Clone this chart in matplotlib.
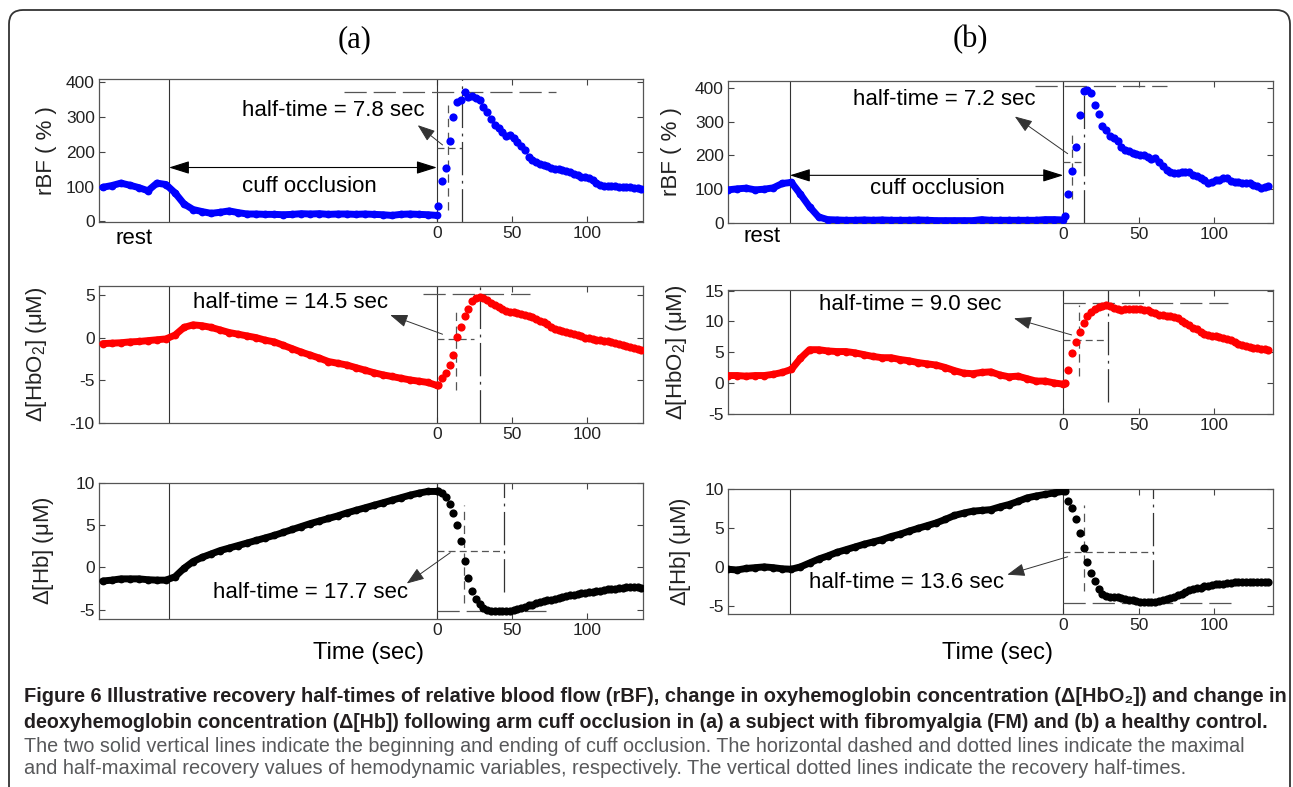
import numpy as np
import matplotlib
matplotlib.use('Agg')
import matplotlib.pyplot as plt
from matplotlib.patches import FancyBboxPatch

plt.rcParams['font.family'] = ['Liberation Sans', 'DejaVu Sans']
plt.rcParams['mathtext.default'] = 'regular'
plt.rcParams['lines.scale_dashes'] = False
plt.rcParams['axes.unicode_minus'] = False

# sample times in sec (0 = cuff release)
t_pre = np.arange(-222, 1, 6)      # rest + occlusion
t_rec = np.arange(1, 137, 2.5)     # recovery

# ---- (a) subject with fibromyalgia ----
rbf_a_pre = [98, 103, 110, 104, 97, 88, 110, 106, 82, 50,
             34, 28, 23, 26, 30, 25, 21, 21, 20, 20,
             19, 20, 22, 21, 22, 20, 21, 21, 20, 21,
             20, 19, 17, 20, 21, 20, 19, 17]
rbf_a_rec = [45, 115, 155, 230, 300, 345, 350, 372, 358, 360,
             356, 350, 330, 315, 295, 278, 268, 258, 246, 248,
             240, 228, 216, 205, 185, 176, 172, 166, 162, 158,
             155, 150, 152, 148, 144, 141, 137, 133, 129, 127,
             124, 118, 111, 106, 102, 101, 103, 101, 100, 99,
             98, 98, 97, 95, 94]
hbo_a_pre = [-0.7, -0.65, -0.6, -0.5, -0.45, -0.35, -0.25, -0.15, 0.3, 1.2,
             1.5, 1.4, 1.2, 0.9, 0.6, 0.4, 0.2, 0.0, -0.3, -0.5,
             -0.9, -1.3, -1.7, -2.05, -2.4, -2.8, -3.0, -3.2, -3.5, -3.8,
             -4.1, -4.35, -4.55, -4.75, -4.95, -5.1, -5.25, -5.6]
hbo_a_rec = [-5.5, -4.7, -4.1, -3.2, -2.0, 0.1, 1.3, 2.5, 3.4, 4.25,
             4.65, 4.8, 4.7, 4.4, 4.1, 3.85, 3.55, 3.3, 3.15, 3.05,
             2.95, 2.9, 2.8, 2.65, 2.55, 2.4, 2.2, 2.0, 1.8, 1.55,
             1.25, 1.05, 0.9, 0.75, 0.65, 0.5, 0.4, 0.3, 0.15, 0.0,
             -0.1, -0.15, -0.25, -0.3, -0.35, -0.45, -0.5, -0.6, -0.75, -0.85,
             -1.0, -1.1, -1.25, -1.35, -1.45]
hb_a_pre = [-1.6, -1.5, -1.35, -1.35, -1.35, -1.45, -1.5, -1.5, -1.1, -0.1,
            0.7, 1.2, 1.6, 2.0, 2.3, 2.6, 2.9, 3.2, 3.5, 3.8,
            4.15, 4.5, 4.85, 5.2, 5.5, 5.8, 6.1, 6.45, 6.75, 7.05,
            7.35, 7.65, 7.95, 8.25, 8.55, 8.8, 9.0, 9.0]
hb_a_rec = [9.0, 8.85, 8.3, 7.55, 6.4, 5.0, 3.1, 0.8, -1.2, -2.8,
            -3.7, -4.35, -4.8, -5.0, -5.1, -5.1, -5.15, -5.15, -5.15, -5.1,
            -5.05, -4.9, -4.75, -4.65, -4.5, -4.4, -4.25, -4.1, -4.0, -3.9,
            -3.8, -3.75, -3.65, -3.5, -3.4, -3.3, -3.2, -3.15, -3.05, -3.0,
            -2.95, -2.9, -2.8, -2.75, -2.7, -2.6, -2.55, -2.5, -2.45, -2.4,
            -2.35, -2.3, -2.3, -2.35, -2.4]

# ---- (b) healthy control ----
rbf_b_pre = [98, 101, 103, 98, 100, 104, 117, 120, 85, 48,
             18, 10, 9, 8, 8, 9, 8, 9, 8, 8,
             8, 9, 8, 7, 7, 7, 7, 7, 10, 8,
             8, 8, 8, 8, 8, 10, 10, 9]
rbf_b_rec = [20, 85, 155, 225, 320, 390, 392, 385, 350, 322,
             288, 276, 256, 250, 244, 225, 215, 212, 206, 203,
             202, 202, 194, 190, 192, 180, 170, 158, 150, 149,
             148, 150, 152, 152, 141, 138, 132, 126, 118, 122,
             126, 127, 133, 134, 125, 122, 120, 119, 117, 117,
             112, 110, 104, 106, 108]
hbo_b_pre = [1.2, 1.2, 1.1, 1.2, 1.2, 1.4, 1.7, 2.2, 4.0, 5.4,
             5.4, 5.2, 5.1, 5.1, 4.9, 4.6, 4.3, 4.1, 4.1, 3.8,
             3.6, 3.3, 3.1, 2.9, 2.5, 2.0, 1.6, 1.5, 1.7, 1.8,
             1.3, 1.0, 1.1, 0.7, 0.3, 0.3, 0.0, -0.2]
hbo_b_rec = [0.0, 2.1, 4.8, 6.7, 8.3, 9.8, 10.9, 11.6, 12.05, 12.3,
             12.5, 12.7, 12.5, 12.2, 12.0, 11.9, 11.95, 12.0, 12.05, 12.05,
             12.0, 11.9, 11.8, 11.6, 11.4, 11.1, 11.0, 10.9, 10.85, 10.75,
             10.5, 10.1, 9.8, 9.4, 9.0, 8.7, 8.35, 8.0, 7.75, 7.65,
             7.55, 7.4, 7.25, 7.1, 6.9, 6.6, 6.35, 6.15, 6.0, 5.85,
             5.7, 5.6, 5.5, 5.45, 5.4]
hb_b_pre = [-0.3, -0.4, -0.2, -0.1, 0.0, -0.1, -0.25, -0.3, 0.0, 0.5,
            1.0, 1.4, 1.85, 2.2, 2.55, 2.9, 3.2, 3.5, 3.9, 4.2,
            4.6, 4.95, 5.3, 5.65, 6.1, 6.6, 6.9, 7.15, 7.25, 7.35,
            7.7, 8.0, 8.4, 8.85, 9.1, 9.3, 9.5, 9.7]
hb_b_rec = [9.7, 8.5, 7.6, 6.2, 4.3, 2.45, 0.6, -0.8, -1.85, -2.85,
            -3.45, -3.8, -3.85, -3.85, -3.9, -4.0, -4.1, -4.2, -4.3, -4.4,
            -4.45, -4.55, -4.55, -4.55, -4.5, -4.4, -4.3, -4.1, -4.0, -3.85,
            -3.65, -3.45, -3.2, -3.0, -2.85, -2.75, -2.65, -2.5, -2.4, -2.3,
            -2.25, -2.2, -2.15, -2.1, -2.05, -2.0, -1.95, -1.95, -1.95, -1.95,
            -1.95, -1.95, -1.95, -1.95, -1.95]

occ_start = [-178, -181]          # begin of cuff occlusion, (a) and (b)
half_labels = ['half-time = 7.8 sec', 'half-time = 14.5 sec', 'half-time = 17.7 sec',
               'half-time = 7.2 sec', 'half-time = 9.0 sec', 'half-time = 13.6 sec']
# guide lines: half-time position, half level, peak (trough) time, peak (trough) level
t_half = [7.6, 12.5, 17.8, 5.6, 10.2, 14.0]
v_half = [211, -0.15, 2.0, 180, 7.0, 1.9]
t_peak = [16.5, 29.0, 44.5, 13.7, 29.8, 59.7]
v_peak = [372, 5.1, -5.15, 404, 13.0, -4.7]

ylabels = ['rBF ( % )', r'$\Delta$[HbO$_2$] ($\mu$M)', r'$\Delta$[Hb] ($\mu$M)']

W, H = 1293, 787
fig = plt.figure(figsize=(W / 100, H / 100), dpi=100)

# box + layout in pixels of the reference
panels = [
    dict(pre=rbf_a_pre, rec=rbf_a_rec, col='#0000ff', box=(99, 79, 643, 222), xlim=(-224.5, 137),
         ylim=(-2, 410), yt=[0, 100, 200, 300, 400], lab=0, lx=-0.077, occ=0,
         txt=(-69, 320), tail=(3.8, 220), head=(-12.7, 277),
         max_span=(-62, 79), half_span=(0, 16.5), th_span=(32, 336), tp_span=None),
    dict(pre=hbo_a_pre, rec=hbo_a_rec, col='#ff0000', box=(99, 286, 643, 423), xlim=(-224.5, 137),
         ylim=(-10, 6.05), yt=[-10, -5, 0, 5], lab=1, lx=-0.092, occ=0,
         txt=(-97, 4.1), tail=(3.8, 0.4), head=(-31, 2.65),
         max_span=(-9, 62), half_span=(0, 25), th_span=(-6.1, 3.2), tp_span=None),
    dict(pre=hb_a_pre, rec=hb_a_rec, col='#000000', box=(99, 483, 643, 619), xlim=(-224.5, 137),
         ylim=(-6.1, 10), yt=[-5, 0, 5, 10], lab=2, lx=-0.079, occ=0,
         txt=(-84, -3.0), tail=(8.9, 1.75), head=(-20, -1.9),
         max_span=(0, 72.5), half_span=(0, 44.5), th_span=(-4.2, 7.4), tp_span=(-2.9, 10)),
    dict(pre=rbf_b_pre, rec=rbf_b_rec, col='#0000ff', box=(728, 81, 1273, 223), xlim=(-222, 139),
         ylim=(0, 420), yt=[0, 100, 200, 300, 400], lab=0, lx=-0.084, occ=1,
         txt=(-79, 366), tail=(3, 205), head=(-32, 315),
         max_span=(-18.6, 69), half_span=(0, 14.5), th_span=(72, 259), tp_span=None),
    dict(pre=hbo_b_pre, rec=hbo_b_rec, col='#ff0000', box=(728, 290, 1273, 414), xlim=(-222, 139),
         ylim=(-5.05, 15.1), yt=[-5, 0, 5, 10, 15], lab=1, lx=-0.072, occ=1,
         txt=(-101.5, 12.7), tail=(5.6, 7.8), head=(-32.6, 10.5),
         max_span=(0, 109), half_span=(0, 30), th_span=(1.2, 12.7), tp_span=(-3.1, 15.1)),
    dict(pre=hb_b_pre, rec=hb_b_rec, col='#000000', box=(728, 489, 1273, 614), xlim=(-222, 139),
         ylim=(-6.05, 10), yt=[-5, 0, 5, 10], lab=2, lx=-0.064, occ=1,
         txt=(-104, -2.05), tail=(3, 1.3), head=(-37, -1.0),
         max_span=(0, 111.5), half_span=(0, 59.7), th_span=(-3.1, 8.0), tp_span=(-3.35, 10)),
]

gc = '#555555'
axes = []
for i, p in enumerate(panels):
    x0, y0, x1, y1 = p['box']
    ax = fig.add_axes([x0 / W, 1 - y1 / H, (x1 - x0) / W, (y1 - y0) / H])
    axes.append(ax)

    # data: continuous band before release, separate dots afterwards
    ax.plot(t_pre, p['pre'], '-', color=p['col'], lw=5.0, solid_capstyle='round', zorder=3)
    ax.plot(t_pre, p['pre'], 'o', color=p['col'], ms=5.6, mew=0, zorder=3)
    ax.plot(t_rec, p['rec'], 'o', color=p['col'], ms=5.9, mew=0, zorder=3)

    # occlusion start / end
    ax.axvline(occ_start[p['occ']], color='#333333', lw=0.8, zorder=2)
    ax.axvline(0, color='#333333', lw=0.8, zorder=2)

    # recovery guides
    ax.plot(p['max_span'], [v_peak[i]] * 2, color=gc, lw=0.9, dashes=(16, 5), zorder=2)
    ax.plot(p['half_span'], [v_half[i]] * 2, color=gc, lw=0.9, dashes=(5, 3), zorder=2)
    ax.plot([t_half[i]] * 2, p['th_span'], color=gc, lw=0.9, dashes=(6, 4), zorder=2)
    tp = p['tp_span'] if p['tp_span'] else p['ylim']
    ax.plot([t_peak[i]] * 2, tp, color='#333333', lw=0.9, dashes=(24, 4, 2, 4), zorder=2)

    ax.text(p['txt'][0], p['txt'][1], half_labels[i], fontsize=16, ha='center', va='center')
    ax.annotate('', xy=p['head'], xytext=p['tail'],
                arrowprops=dict(arrowstyle='-|>,head_length=0.6,head_width=0.22',
                                color='#333333', lw=0.7, mutation_scale=18,
                                shrinkA=0, shrinkB=0))

    ax.set_xlim(p['xlim'])
    ax.set_ylim(p['ylim'])
    ax.set_xticks([0, 50, 100])
    ax.set_yticks(p['yt'])
    ax.tick_params(direction='in', top=True, right=True, length=4, width=0.8,
                   color='#444444', labelsize=12.5, labelcolor='#222222', pad=3)
    for s in ax.spines.values():
        s.set_color('#555555')
        s.set_linewidth(0.9)
    ax.set_ylabel(ylabels[p['lab']], fontsize=16, color='#222222')
    ax.yaxis.set_label_coords(p['lx'], 0.5)

# cuff occlusion arrows on the rBF panels
for ax, oc, yv, tx in [(axes[0], occ_start[0], 155, (-85, 101)),
                       (axes[3], occ_start[1], 141, (-83.5, 101))]:
    ax.annotate('', xy=(oc, yv), xytext=(0, yv),
                arrowprops=dict(arrowstyle='<|-|>,head_length=0.7,head_width=0.22',
                                color='black', lw=0.8, mutation_scale=18,
                                shrinkA=0, shrinkB=0))
    ax.text(tx[0], tx[1], 'cuff occlusion', fontsize=16, ha='center', va='center')

# panel titles and shared texts
fig.text(355 / W, 1 - 40 / H, '(a)', family='Liberation Serif', fontsize=22, ha='center', va='center')
fig.text(970 / W, 1 - 40 / H, '(b)', family='Liberation Serif', fontsize=22, ha='center', va='center')
fig.text(134 / W, 1 - 239 / H, 'rest', fontsize=16, ha='center', va='center')
fig.text(762 / W, 1 - 237 / H, 'rest', fontsize=16, ha='center', va='center')
fig.text(368 / W, 1 - 653 / H, 'Time (sec)', fontsize=17, ha='center', va='center')
fig.text(998 / W, 1 - 653 / H, 'Time (sec)', fontsize=17, ha='center', va='center')

# rounded frame around figure + caption
frame = FancyBboxPatch((0.09, -0.3), 12.81, 8.07, boxstyle='round,pad=0,rounding_size=0.14',
                       transform=fig.dpi_scale_trans, fill=False, edgecolor='#333333', lw=1.3)
fig.add_artist(frame)

cap_font = ['Liberation Sans Narrow', 'Liberation Sans', 'DejaVu Sans']
caption = [
    ('Figure 6 Illustrative recovery half-times of relative blood flow (rBF), change in oxyhemoglobin '
     'concentration (\u0394[HbO\u2082]) and change in', 'bold', '#231f20', 696, 1257),
    ('deoxyhemoglobin concentration (\u0394[Hb]) following arm cuff occlusion in (a) a subject with '
     'fibromyalgia (FM) and (b) a healthy control.', 'bold', '#231f20', 722, 1239),
    ('The two solid vertical lines indicate the beginning and ending of cuff occlusion. The horizontal '
     'dashed and dotted lines indicate the maximal', 'normal', '#58595b', 746, 1213),
    ('and half-maximal recovery values of hemodynamic variables, respectively. The vertical dotted '
     'lines indicate the recovery half-times.', 'normal', '#58595b', 769, 1157),
]
renderer = fig.canvas.get_renderer()
for txt, wt, c, yy, wpx in caption:
    t = fig.text(24 / W, 1 - yy / H, txt, family=cap_font, weight=wt, color=c,
                 fontsize=13, ha='left', va='center')
    w = t.get_window_extent(renderer).width
    t.set_fontsize(13 * wpx / w)

fig.savefig('out.png', dpi=100)
